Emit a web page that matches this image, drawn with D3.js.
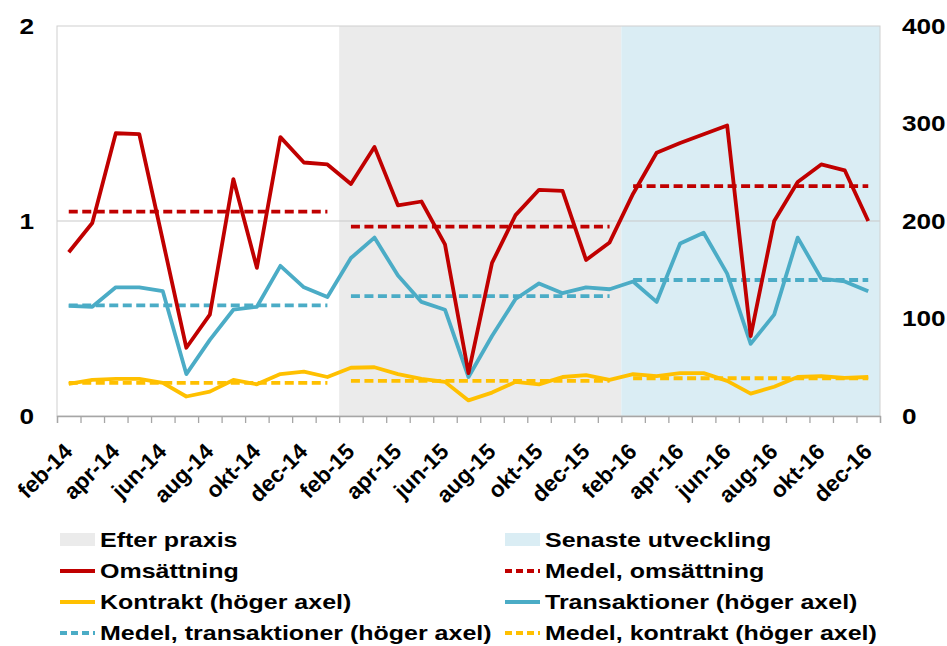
<!DOCTYPE html>
<html>
<head>
<meta charset="utf-8">
<script src="https://cdn.jsdelivr.net/npm/d3@7"></script>
<style>
    body { margin: 0; background: #fff; }
    svg text { font-family: "Liberation Sans", Arial, sans-serif; font-weight: bold; fill: #000; }
</style>
</head>
<body>
<div id="chart"></div>
<script>
// data
const months = ["feb-14","mar-14","apr-14","maj-14","jun-14","jul-14","aug-14","sep-14","okt-14","nov-14","dec-14","jan-15",
    "feb-15","mar-15","apr-15","maj-15","jun-15","jul-15","aug-15","sep-15","okt-15","nov-15","dec-15","jan-16",
    "feb-16","mar-16","apr-16","maj-16","jun-16","jul-16","aug-16","sep-16","okt-16","nov-16","dec-16"];

const omsattning = [0.84, 0.99, 1.45, 1.445, 0.90, 0.35, 0.52, 1.215, 0.76, 1.43, 1.30, 1.29,
    1.19, 1.38, 1.08, 1.10, 0.88, 0.22, 0.785, 1.03, 1.16, 1.155, 0.80, 0.89,
    1.14, 1.35, 1.40, 1.445, 1.49, 0.41, 1.00, 1.20, 1.29, 1.26, 1.00];

const transaktioner = [113, 112, 132, 132, 128, 43, 78, 109, 112, 154, 132, 122,
    162, 183, 144, 117, 109, 40, 82, 120, 136, 126, 132, 130,
    138, 117, 177, 188, 146, 74, 104, 183, 141, 138, 128];

const kontrakt = [33, 37, 38, 38, 34, 20, 25, 37, 32.5, 43, 45.5, 40,
    49.5, 50, 43, 38, 35, 16, 24, 35, 32.5, 40, 42, 37,
    43, 41, 44, 44, 36, 23, 30, 40, 41, 39, 40];

// periods (first/last month) and their means
const periodStart = ["feb-14", "feb-15", "feb-16"];
const periodEnd = ["jan-15", "jan-16", "dec-16"];
const medelOmsattning = [1.048, 0.971, 1.179];
const medelTransaktioner = [113.5, 123, 139.5];
const medelKontrakt = [34, 36, 38.7];

// shaded periods
const bandNames = ["Efter praxis", "Senaste utveckling"];
const bandStart = ["feb-15", "feb-16"];
const bandEnd = ["jan-16", "dec-16"];

const leftTicks = [0, 1, 2];
const rightTicks = [0, 100, 200, 300, 400];

const colors = {
    red: "#c00000",
    yellow: "#ffc000",
    blue: "#4bacc6",
    gray: "#ebebeb",
    lightBlue: "#daedf4",
    grid: "#c9c9c9"
};

const width = 947, height = 646;
const margin = {top: 26, right: 67, bottom: 230, left: 57};
const SX = 1.19; // text in the source is stretched horizontally

let svg = d3.select("#chart").append("svg")
    .attr("width", width)
    .attr("height", height);

let x = d3.scaleBand()
    .domain(months)
    .range([margin.left, width - margin.right])
    .padding(0);

let xc = m => x(m) + x.bandwidth() / 2;

let yL = d3.scaleLinear()
    .domain([0, 2])
    .range([height - margin.bottom, margin.top]);

let yR = d3.scaleLinear()
    .domain([0, 400])
    .range([height - margin.bottom, margin.top]);

// background bands
let bandColors = [colors.gray, colors.lightBlue];
bandNames.forEach((b, i) => {
    svg.append("rect")
        .attr("x", x(bandStart[i]))
        .attr("y", margin.top)
        .attr("width", x(bandEnd[i]) + x.bandwidth() - x(bandStart[i]))
        .attr("height", yL(0) - yL(2))
        .attr("fill", bandColors[i]);
});

// gridlines + border
svg.append("line")
    .attr("x1", margin.left).attr("x2", width - margin.right)
    .attr("y1", yL(1)).attr("y2", yL(1))
    .attr("stroke", colors.grid).attr("stroke-width", 1);

svg.append("rect")
    .attr("x", margin.left)
    .attr("y", margin.top)
    .attr("width", width - margin.right - margin.left)
    .attr("height", yL(0) - yL(2))
    .attr("fill", "none")
    .attr("stroke", "#d0d0d0")
    .attr("stroke-width", 1);

// x axis: ticks at category boundaries
let xi = d3.scaleLinear()
    .domain([0, months.length])
    .range([margin.left, width - margin.right]);

let xAxis = svg.append("g")
    .attr("transform", `translate(0, ${yL(0)})`)
    .call(d3.axisBottom(xi).tickValues(d3.range(months.length + 1)).tickSize(7).tickFormat(""));
xAxis.select(".domain").attr("stroke", "#a6a6a6").attr("stroke-width", 1.3);
xAxis.selectAll(".tick line").attr("stroke", "#a6a6a6").attr("stroke-width", 1.3);

svg.append("g")
    .selectAll("text")
    .data(months.filter((m, i) => i % 2 === 0))
    .enter().append("text")
    .attr("text-anchor", "end")
    .attr("font-size", 22.5)
    .attr("transform", d => `translate(${xc(d) + 5}, ${yL(0) + 37}) rotate(-45)`)
    .text(d => d);

// y axis labels
svg.append("g")
    .selectAll("text")
    .data(leftTicks)
    .enter().append("text")
    .attr("text-anchor", "end")
    .attr("dominant-baseline", "central")
    .attr("font-size", 22)
    .attr("transform", d => `translate(34, ${yL(d)}) scale(${SX}, 1)`)
    .text(d => d);

svg.append("g")
    .selectAll("text")
    .data(rightTicks)
    .enter().append("text")
    .attr("text-anchor", "start")
    .attr("dominant-baseline", "central")
    .attr("font-size", 22)
    .attr("transform", d => `translate(902, ${yR(d)}) scale(${SX}, 1)`)
    .text(d => d);

// lines
let lineL = d3.line().x((d, i) => xc(months[i])).y(d => yL(d));
let lineR = d3.line().x((d, i) => xc(months[i])).y(d => yR(d));

function drawMeans(values, scale, color) {
    values.forEach((v, i) => {
        svg.append("line")
            .attr("x1", xc(periodStart[i]))
            .attr("x2", xc(periodEnd[i]))
            .attr("y1", scale(v))
            .attr("y2", scale(v))
            .attr("stroke", color)
            .attr("stroke-width", 3.8)
            .attr("stroke-dasharray", "9,4.5");
    });
}

drawMeans(medelKontrakt, yR, colors.yellow);
drawMeans(medelTransaktioner, yR, colors.blue);
drawMeans(medelOmsattning, yL, colors.red);

svg.append("path")
    .datum(kontrakt)
    .attr("d", lineR)
    .attr("fill", "none")
    .attr("stroke", colors.yellow)
    .attr("stroke-width", 3.8)
    .attr("stroke-linejoin", "round");

svg.append("path")
    .datum(transaktioner)
    .attr("d", lineR)
    .attr("fill", "none")
    .attr("stroke", colors.blue)
    .attr("stroke-width", 3.8)
    .attr("stroke-linejoin", "round");

svg.append("path")
    .datum(omsattning)
    .attr("d", lineL)
    .attr("fill", "none")
    .attr("stroke", colors.red)
    .attr("stroke-width", 3.8)
    .attr("stroke-linejoin", "round");

// legend
const legendItems = [
    {label: "Efter praxis", type: "rect", color: colors.gray},
    {label: "Senaste utveckling", type: "rect", color: colors.lightBlue},
    {label: "Omsättning", type: "line", color: colors.red},
    {label: "Medel, omsättning", type: "dash", color: colors.red},
    {label: "Kontrakt (höger axel)", type: "line", color: colors.yellow},
    {label: "Transaktioner (höger axel)", type: "line", color: colors.blue},
    {label: "Medel, transaktioner (höger axel)", type: "dash", color: colors.blue},
    {label: "Medel, kontrakt (höger axel)", type: "dash", color: colors.yellow}
];

let legend = svg.append("g").attr("class", "legend");
let colX = [60, 505], rowY0 = 540, rowH = 31;

legendItems.forEach((d, i) => {
    let gx = colX[i % 2], gy = rowY0 + Math.floor(i / 2) * rowH;
    let g = legend.append("g").attr("transform", `translate(${gx}, ${gy})`);
    if (d.type === "rect") {
        g.append("rect")
            .attr("x", 0).attr("y", -7)
            .attr("width", 35).attr("height", 13)
            .attr("fill", d.color);
    } else {
        g.append("line")
            .attr("x1", 0).attr("x2", 35)
            .attr("y1", 0).attr("y2", 0)
            .attr("stroke", d.color)
            .attr("stroke-width", 4)
            .attr("stroke-dasharray", d.type === "dash" ? "7,4" : null);
    }
    g.append("text")
        .attr("font-size", 21)
        .attr("dominant-baseline", "central")
        .attr("transform", `translate(40, 0) scale(${SX}, 1)`)
        .text(d.label);
});
</script>
</body>
</html>
